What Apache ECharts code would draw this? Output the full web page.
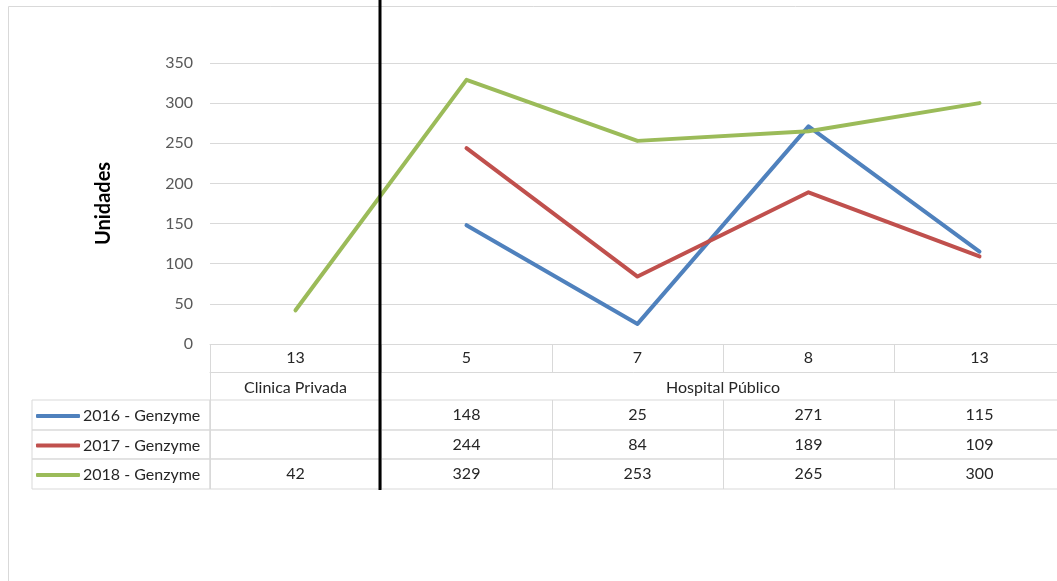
<!DOCTYPE html>
<html><head><meta charset="utf-8">
<script src="https://cdn.jsdelivr.net/npm/echarts@6/dist/echarts.min.js"></script>
<style>html,body{margin:0;padding:0;background:#fff}#c{width:1057px;height:581px}</style>
</head><body><div id="c"></div>
<script>
// ---- data ----
const categories = ['13', '5', '7', '8', '13'];
const groupNames = ['Clinica Privada', 'Hospital Público'];
const groupSpans = [1, 4];
const seriesNames = ['2016 - Genzyme', '2017 - Genzyme', '2018 - Genzyme'];
const values2016 = [null, 148, 25, 271, 115];
const values2017 = [null, 244, 84, 189, 109];
const values2018 = [42, 329, 253, 265, 300];
const yAxisName = 'Unidades';
const yMin = 0, yMax = 350, yInterval = 50;

// ---- style ----
const FONT = 'Lato';
const GRIDC = '#d9d9d9';
const colors = ['#4F81BD', '#C0504D', '#9BBB59'];
const seriesValues = [values2016, values2017, values2018];

const PL = 210, PW = 855;
const rowTops = [400, 430, 459];
const rowHs = [30, 29, 30];

let acc = 0;
const groupCenters = groupSpans.map(sp => { const c = acc + sp / 2; acc += sp; return c; });

const G = o => Object.assign({ outerBoundsMode: 'none', containLabel: false }, o);
const grids = [
  G({ left: PL, top: 63, width: PW, height: 281 }),            // 0 main
  G({ left: PL, top: 344, width: PW, height: 28 }),            // 1 categories row
  G({ left: PL, top: 372, width: PW, height: 28 }),            // 2 groups row
];
rowTops.forEach((t, i) => grids.push(G({ left: PL, top: t, width: PW, height: rowHs[i], show: true, borderColor: GRIDC, borderWidth: 1 }))); // 3,4,5
rowTops.forEach((t, i) => grids.push(G({ left: 32, top: t, width: 178, height: rowHs[i], show: true, borderColor: GRIDC, borderWidth: 1 }))); // 6,7,8
grids.push(G({ left: PL - 1, top: 0, width: PW, height: 490 }));  // 9 overlay

const txt = { fontFamily: FONT, fontSize: 16, color: '#262626' };

const xAxes = [
  { gridIndex: 0, type: 'category', data: categories, boundaryGap: true,
    axisLine: { show: true, lineStyle: { color: GRIDC } }, axisTick: { show: false }, axisLabel: { show: false } },
  { gridIndex: 1, type: 'category', data: categories, position: 'top', boundaryGap: true,
    axisLine: { show: true, lineStyle: { color: GRIDC } }, axisTick: { show: false },
    axisLabel: Object.assign({ inside: true, margin: 6, interval: 0 }, txt),
    splitLine: { show: true, interval: 0, lineStyle: { color: GRIDC } } },
  { gridIndex: 2, type: 'value', min: 0, max: categories.length, position: 'top',
    axisLine: { show: false }, axisTick: { show: false }, splitLine: { show: false },
    axisLabel: Object.assign({ inside: true, margin: 8, customValues: groupCenters,
      formatter: v => { const k = groupCenters.indexOf(v); return k >= 0 ? groupNames[k] : ''; } }, txt) },
];
seriesValues.forEach((vals, i) => xAxes.push({
  gridIndex: 3 + i, type: 'category', position: 'top', boundaryGap: true,
  data: vals.map(v => v == null ? '' : String(v)),
  axisLine: { show: false }, axisTick: { show: false },
  axisLabel: Object.assign({ inside: true, margin: 7, interval: 0 }, txt),
  splitLine: { show: true, interval: 0, lineStyle: { color: GRIDC } }
}));
xAxes.push({ gridIndex: 9, type: 'value', min: 0, max: categories.length, show: false });

const yAxes = [
  { gridIndex: 0, type: 'value', min: yMin, max: yMax, interval: yInterval,
    name: yAxisName, nameLocation: 'middle', nameGap: 96, nameRotate: 90,
    nameTextStyle: { fontFamily: FONT, fontSize: 20, fontWeight: 'bold', color: '#000' },
    axisLine: { show: false }, axisTick: { show: false },
    axisLabel: { fontFamily: FONT, fontSize: 16, color: '#595959', margin: 17 },
    splitLine: { show: true, lineStyle: { color: GRIDC, width: 1 } } },
  { gridIndex: 1, type: 'value', show: false },
  { gridIndex: 2, type: 'value', show: true, position: 'left',
    axisLine: { show: true, lineStyle: { color: GRIDC } }, axisTick: { show: false },
    axisLabel: { show: false }, splitLine: { show: false } },
  { gridIndex: 3, type: 'value', show: false },
  { gridIndex: 4, type: 'value', show: false },
  { gridIndex: 5, type: 'value', show: false },
  { gridIndex: 9, type: 'value', min: 0, max: 1, show: false },
];

const series = seriesNames.map((n, i) => ({
  name: n, type: 'line', xAxisIndex: 0, yAxisIndex: 0,
  data: seriesValues[i], symbol: 'none', connectNulls: false,
  lineStyle: { color: colors[i], width: 4, cap: 'round', join: 'round' },
  itemStyle: { color: colors[i] }, z: 3
}));
// group divider
const divider = groupSpans[0];
series.push({
  type: 'line', xAxisIndex: xAxes.length - 1, yAxisIndex: yAxes.length - 1,
  data: [[divider, 0], [divider, 1]], symbol: 'none', silent: true,
  lineStyle: { color: '#000', width: 3 }, z: 10
});

const legends = seriesNames.map((n, i) => ({
  data: [n], left: 36, top: rowTops[i] + rowHs[i] / 2 - 7, padding: 0, itemWidth: 44, itemHeight: 4,
  icon: 'roundRect', selectedMode: false,
  textStyle: { fontFamily: FONT, fontSize: 16, color: '#262626', padding: [0, 0, 0, -2] }
}));

const chart = echarts.init(document.getElementById('c'), null, { renderer: 'canvas' });
chart.setOption({
  animation: false,
  backgroundColor: '#fff',
  grid: grids,
  xAxis: xAxes,
  yAxis: yAxes,
  legend: legends,
  series: series,
  graphic: [{ type: 'rect', shape: { x: 8.5, y: 6.5, width: 1200, height: 700 },
    style: { fill: 'none', stroke: GRIDC, lineWidth: 1 }, silent: true, z: -1 }]
});
</script></body></html>
